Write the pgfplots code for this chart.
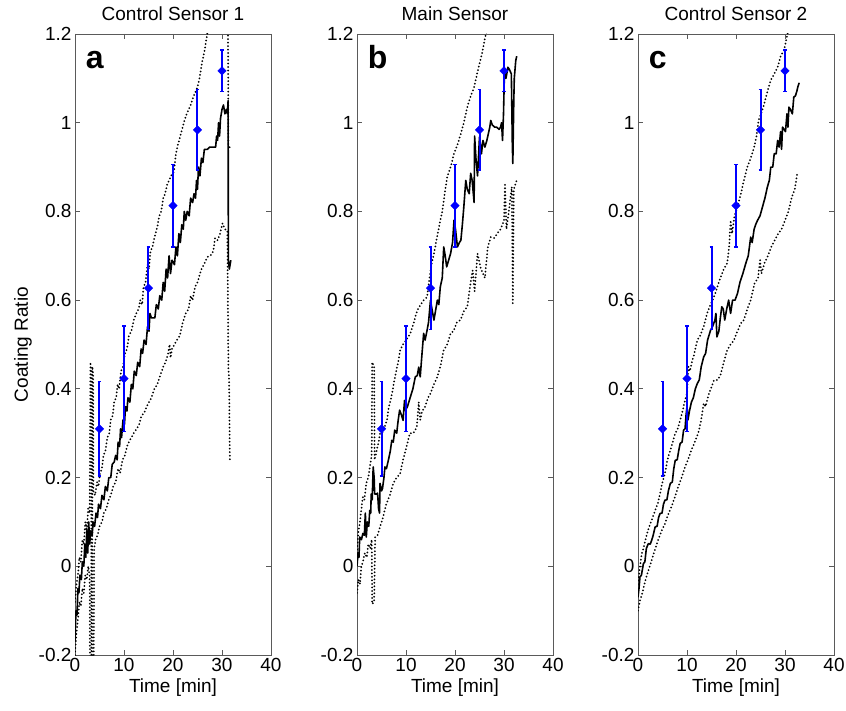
\documentclass[border=0pt]{standalone}
\usepackage{pgfplots}
\pgfplotsset{compat=1.18}
\usepackage{fontspec}
\setmainfont{Liberation Sans}
\definecolor{axgray}{RGB}{90,90,90}
\definecolor{ebblue}{RGB}{0,0,255}
\tikzset{letter/.style={anchor=base west, inner sep=0pt, font=\fontsize{32}{32}\selectfont\bfseries}}
\pgfplotsset{
 panel/.style={
  scale only axis, width=196pt, height=621pt, anchor=south west,
  xmin=0, xmax=40, ymin=-0.2, ymax=1.2,
  xtick={0,10,20,30,40}, xticklabels={0,10,20,30,40},
  ytick={-0.2,0,0.2,0.4,0.6,0.8,1,1.2}, yticklabels={-0.2,0,0.2,0.4,0.6,0.8,1,1.2},
  tick align=inside, major tick length=5pt,
  axis line style={axgray, line width=0.8pt},
  every tick/.style={axgray, line width=0.8pt},
  tick label style={font=\fontsize{19}{19}\selectfont, black},
  label style={font=\fontsize{19}{19}\selectfont},
  title style={font=\fontsize{19}{19}\selectfont, yshift=4pt},
  xlabel={Time [min]},
  clip=true, unbounded coords=jump,
 },
 mean/.style={black, line width=1.6pt, line join=round, no markers},
 bound/.style={black, line width=2pt, line cap=round, dash pattern=on 0pt off 3.5pt, no markers},
 ebar/.style={ebblue, line width=2pt, no markers, solid},
 ecap/.style={ebblue, line width=1.5pt, no markers, solid},
 emark/.style={ebblue, only marks, mark=square*, mark size=3pt,
   mark options={fill=ebblue, draw=ebblue, solid, rotate=45}},
}
\begin{document}
\begin{tikzpicture}
\path[use as bounding box] (0,0) rectangle (846pt,710pt);
% ---------------- panel a
\begin{axis}[panel, at={(75pt,55pt)}, title={Control Sensor 1}, ylabel={Coating Ratio}]
\addplot[bound] coordinates {(0,-0.08) (0.3,-0.04) (0.6,-0.02) (0.9,0.02) (1.2,0.01) (1.5,0.06) (1.8,0.05) (2.1,0.1) (2.4,0.08) (2.7,0.13) (3.0,0.12) (3.15,0.46) (3.3,0.44) (3.35,-0.25) (3.5,-0.25) (3.55,0.45) (3.7,0.43) (3.75,0.17) (4.1,0.16) (4.5,0.19) (4.8,0.18) (5.1,0.21) (5.5,0.22) (5.8,0.25) (6.2,0.26) (6.6,0.29) (7.0,0.3) (7.3,0.33) (7.7,0.34) (8.0,0.37) (8.4,0.38) (8.7,0.41) (9.0,0.4) (9.4,0.44) (9.8,0.45) (10.2,0.48) (10.6,0.49) (11.0,0.52) (11.5,0.53) (12.0,0.555) (12.5,0.57) (13.0,0.58) (13.3,0.6) (13.7,0.59) (14.0,0.63) (14.4,0.64) (14.8,0.68) (15.1,0.67) (15.4,0.71) (15.8,0.72) (16.2,0.74) (16.8,0.765) (17.2,0.79) (17.6,0.8) (18.0,0.83) (18.4,0.84) (18.8,0.86) (19.2,0.87) (19.6,0.88) (20.2,0.89) (20.6,0.93) (21.0,0.95) (21.5,0.97) (22.2,1.0) (22.8,1.02) (23.6,1.04) (24.2,1.06) (25.0,1.08) (25.4,1.1) (25.7,1.12) (26.0,1.14) (26.4,1.16) (27.0,1.2) (27.5,1.23) (28.5,1.26) (30,1.3) (31.2,1.32) (31.3,0.95) (31.8,0.94)};
\addplot[bound] coordinates {(0,-0.2) (0.3,-0.15) (0.6,-0.12) (0.9,-0.08) (1.2,-0.09) (1.5,-0.05) (1.8,-0.06) (2.1,-0.02) (2.4,-0.03) (2.7,0.0) (3.0,-0.02) (3.1,-0.3) (3.8,-0.3) (3.9,0.04) (4.2,0.06) (4.6,0.07) (5.0,0.09) (5.5,0.1) (5.9,0.12) (6.4,0.13) (6.9,0.15) (7.3,0.16) (7.8,0.18) (8.3,0.19) (8.8,0.22) (9.2,0.21) (9.7,0.24) (10.2,0.25) (10.6,0.27) (11.0,0.28) (11.5,0.29) (12.0,0.3) (12.6,0.31) (13.1,0.32) (13.6,0.34) (14.1,0.345) (14.6,0.36) (15.1,0.37) (15.6,0.38) (16.2,0.4) (16.8,0.41) (17.4,0.43) (18.0,0.45) (18.5,0.46) (19.0,0.48) (19.3,0.5) (19.5,0.47) (19.8,0.49) (20.3,0.5) (20.8,0.51) (21.4,0.52) (22.0,0.55) (22.6,0.57) (23.2,0.58) (23.6,0.61) (24.0,0.6) (24.5,0.63) (25.0,0.64) (25.7,0.667) (26.3,0.68) (27.0,0.697) (27.6,0.7) (28.2,0.71) (28.6,0.74) (29.1,0.735) (29.6,0.75) (30.1,0.773) (30.6,0.76) (31.1,0.757) (31.3,0.45) (31.45,0.42) (31.6,0.24)};
\addplot[mean] coordinates {(0,-0.17) (0.2,-0.1) (0.4,-0.11) (0.6,-0.05) (0.8,-0.06) (1.0,-0.02) (1.3,-0.03) (1.5,0.01) (1.8,0.0) (2.0,0.05) (2.2,0.02) (2.4,0.08) (2.6,0.03) (2.8,0.1) (3.0,0.05) (3.2,0.08) (3.5,0.07) (3.7,0.1) (4.0,0.09) (4.3,0.12) (4.6,0.11) (4.8,0.14) (5.2,0.13) (5.5,0.16) (5.9,0.15) (6.2,0.18) (6.6,0.17) (6.9,0.2) (7.3,0.2) (7.6,0.23) (8.0,0.235) (8.3,0.25) (8.6,0.24) (8.8,0.28) (9.1,0.27) (9.3,0.31) (9.5,0.29) (9.8,0.33) (10.1,0.32) (10.3,0.36) (10.6,0.35) (10.8,0.38) (11.2,0.37) (11.5,0.41) (11.8,0.4) (12.1,0.44) (12.5,0.43) (12.8,0.46) (13.2,0.45) (13.5,0.49) (13.8,0.48) (14.1,0.51) (14.5,0.5) (14.8,0.54) (15.1,0.53) (15.3,0.57) (15.6,0.56) (16.3,0.56) (16.6,0.59) (17.0,0.58) (17.3,0.61) (17.7,0.6) (18.0,0.64) (18.3,0.62) (18.6,0.67) (18.9,0.65) (19.2,0.7) (19.5,0.66) (19.8,0.69) (20.3,0.68) (20.6,0.72) (20.9,0.7) (21.2,0.75) (21.5,0.73) (21.8,0.77) (22.1,0.76) (22.3,0.8) (22.6,0.78) (22.9,0.8) (23.3,0.79) (23.6,0.83) (24.0,0.82) (24.3,0.84) (24.6,0.83) (24.8,0.87) (25.0,0.85) (25.2,0.9) (25.5,0.88) (25.8,0.92) (26.1,0.91) (26.4,0.94) (27.0,0.94) (27.5,0.945) (28.7,0.945) (28.9,0.97) (29.1,0.96) (29.3,1.0) (29.5,0.97) (29.7,1.01) (30.0,1.03) (30.3,1.04) (30.6,1.02) (30.9,1.03) (31.1,1.02) (31.25,1.05) (31.3,0.69) (31.5,0.67) (31.8,0.69)};
\addplot[ebar] coordinates {(5,0.203) (5,0.417) (nan,nan) (10,0.304) (10,0.542) (nan,nan) (15,0.534) (15,0.72) (nan,nan) (20,0.72) (20,0.906) (nan,nan) (25,0.893) (25,1.075) (nan,nan) (30,1.07) (30,1.164)};
\addplot[ecap] coordinates {(4.6,0.203) (5.4,0.203) (nan,nan) (4.6,0.417) (5.4,0.417) (nan,nan) (9.6,0.304) (10.4,0.304) (nan,nan) (9.6,0.542) (10.4,0.542) (nan,nan) (14.6,0.534) (15.4,0.534) (nan,nan) (14.6,0.72) (15.4,0.72) (nan,nan) (19.6,0.72) (20.4,0.72) (nan,nan) (19.6,0.906) (20.4,0.906) (nan,nan) (24.6,0.893) (25.4,0.893) (nan,nan) (24.6,1.075) (25.4,1.075) (nan,nan) (29.6,1.07) (30.4,1.07) (nan,nan) (29.6,1.164) (30.4,1.164)};
\addplot[emark] coordinates {(5,0.31) (10,0.423) (15,0.627) (20,0.813) (25,0.984) (30,1.117)};
\node[letter] at (rel axis cs:0.055,0.945) {a};
\end{axis}
% ---------------- panel b
\begin{axis}[panel, at={(357pt,55pt)}, title={Main Sensor}]
\addplot[bound] coordinates {(0,0.03) (0.3,0.08) (0.6,0.1) (0.9,0.13) (1.2,0.156) (1.5,0.15) (1.9,0.187) (2.3,0.2) (2.7,0.23) (3.0,0.25) (3.1,0.46) (3.5,0.45) (3.6,0.24) (4.0,0.26) (4.4,0.28) (4.7,0.3) (5.1,0.3) (5.5,0.31) (6.1,0.329) (6.5,0.36) (7.0,0.38) (7.5,0.412) (8.0,0.44) (8.4,0.46) (8.8,0.487) (9.4,0.5) (10.0,0.51) (10.9,0.525) (11.6,0.55) (12.3,0.577) (13.0,0.59) (13.6,0.6) (14.3,0.607) (14.8,0.65) (15.2,0.68) (15.7,0.705) (16.3,0.74) (17.0,0.78) (17.4,0.8) (17.9,0.84) (18.4,0.877) (19.1,0.9) (19.8,0.93) (20.5,0.95) (21.2,0.975) (21.8,1.0) (22.5,1.035) (23.2,1.06) (23.9,1.08) (24.5,1.11) (25.0,1.133) (25.6,1.16) (26.1,1.19) (26.8,1.22) (28,1.26) (30,1.3) (32.6,1.35)};
\addplot[bound] coordinates {(0,-0.06) (0.3,-0.03) (0.6,-0.04) (0.9,0.0) (1.2,0.01) (1.6,0.03) (2.0,0.02) (2.3,0.05) (2.7,0.04) (3.0,0.06) (3.1,-0.085) (3.5,-0.08) (3.7,0.066) (4.2,0.07) (4.7,0.089) (5.3,0.11) (6.0,0.141) (6.7,0.16) (7.4,0.187) (8.1,0.2) (8.8,0.209) (9.4,0.24) (10.1,0.27) (10.8,0.3) (11.5,0.3) (12.2,0.314) (12.6,0.37) (12.9,0.33) (13.3,0.35) (13.9,0.36) (14.5,0.38) (15.0,0.39) (15.7,0.41) (16.4,0.427) (17.0,0.45) (17.7,0.487) (18.4,0.5) (19.1,0.525) (19.7,0.53) (20.4,0.55) (21.1,0.555) (21.8,0.575) (22.5,0.585) (23.2,0.64) (23.6,0.667) (24.0,0.62) (24.6,0.705) (25.3,0.67) (26.1,0.65) (26.7,0.72) (27.3,0.742) (28.0,0.74) (28.6,0.75) (29.3,0.76) (30.0,0.78) (30.2,0.86) (30.5,0.76) (31.0,0.8) (31.4,0.84) (31.6,0.855) (31.8,0.593) (32.0,0.85) (32.3,0.86) (32.6,0.87)};
\addplot[mean] coordinates {(0,0.0) (0.2,0.03) (0.4,0.02) (0.55,0.066) (0.9,0.06) (1.2,0.074) (1.5,0.07) (1.7,0.12) (1.9,0.066) (2.1,0.1) (2.4,0.09) (2.6,0.126) (2.8,0.12) (2.9,0.163) (3.1,0.15) (3.3,0.224) (3.5,0.2) (3.6,0.163) (4.0,0.163) (4.2,0.165) (4.4,0.13) (4.6,0.12) (4.7,0.187) (5.0,0.17) (5.2,0.175) (5.5,0.2) (5.7,0.224) (6.0,0.22) (6.4,0.239) (6.8,0.26) (7.1,0.284) (7.4,0.28) (7.7,0.307) (8.1,0.3) (8.4,0.329) (8.7,0.352) (9.1,0.34) (9.4,0.329) (9.7,0.374) (9.9,0.352) (10.3,0.36) (10.9,0.382) (11.4,0.4) (11.9,0.427) (12.3,0.43) (12.6,0.449) (12.9,0.427) (13.2,0.47) (13.6,0.525) (13.9,0.51) (14.3,0.532) (14.6,0.55) (15.0,0.6) (15.3,0.58) (15.7,0.555) (16.4,0.6) (16.7,0.59) (17.0,0.63) (17.4,0.65) (17.7,0.72) (18.0,0.7) (18.3,0.675) (18.7,0.69) (19.1,0.705) (19.5,0.73) (19.8,0.78) (20.1,0.76) (20.5,0.72) (20.9,0.73) (21.2,0.735) (21.5,0.77) (21.8,0.81) (22.2,0.87) (22.5,0.85) (22.9,0.84) (23.2,0.886) (23.5,0.87) (23.9,0.82) (24.0,0.97) (24.3,0.915) (24.6,0.88) (25.0,0.968) (25.2,0.95) (25.4,0.93) (25.7,0.96) (26.1,0.945) (26.5,0.96) (26.8,0.975) (27.1,0.99) (27.3,1.005) (27.6,0.995) (28.1,0.99) (28.5,0.99) (29.0,0.985) (29.3,0.99) (29.5,1.0) (29.7,0.96) (29.9,1.02) (30.1,1.118) (30.4,1.1) (30.8,1.125) (31.1,1.12) (31.5,1.11) (31.7,0.95) (31.8,0.908) (32.0,1.05) (32.1,1.1) (32.4,1.14) (32.6,1.15)};
\addplot[ebar] coordinates {(5,0.203) (5,0.417) (nan,nan) (10,0.304) (10,0.542) (nan,nan) (15,0.534) (15,0.72) (nan,nan) (20,0.72) (20,0.906) (nan,nan) (25,0.893) (25,1.075) (nan,nan) (30,1.07) (30,1.164)};
\addplot[ecap] coordinates {(4.6,0.203) (5.4,0.203) (nan,nan) (4.6,0.417) (5.4,0.417) (nan,nan) (9.6,0.304) (10.4,0.304) (nan,nan) (9.6,0.542) (10.4,0.542) (nan,nan) (14.6,0.534) (15.4,0.534) (nan,nan) (14.6,0.72) (15.4,0.72) (nan,nan) (19.6,0.72) (20.4,0.72) (nan,nan) (19.6,0.906) (20.4,0.906) (nan,nan) (24.6,0.893) (25.4,0.893) (nan,nan) (24.6,1.075) (25.4,1.075) (nan,nan) (29.6,1.07) (30.4,1.07) (nan,nan) (29.6,1.164) (30.4,1.164)};
\addplot[emark] coordinates {(5,0.31) (10,0.423) (15,0.627) (20,0.813) (25,0.984) (30,1.117)};
\node[letter] at (rel axis cs:0.055,0.945) {b};
\end{axis}
% ---------------- panel c
\begin{axis}[panel, at={(638pt,55pt)}, title={Control Sensor 2}]
\addplot[bound] coordinates {(0,-0.04) (0.4,0.0) (0.8,0.03) (1.1,0.04) (1.5,0.059) (2.0,0.08) (2.5,0.096) (3.0,0.11) (3.5,0.126) (4.0,0.14) (4.5,0.164) (5.0,0.19) (5.5,0.209) (6.0,0.24) (6.6,0.262) (7.1,0.28) (7.6,0.3) (8.1,0.31) (8.6,0.329) (9.1,0.35) (9.6,0.374) (10.0,0.39) (10.3,0.45) (10.6,0.44) (11.0,0.46) (11.5,0.48) (12.1,0.51) (12.7,0.52) (13.4,0.54) (14.1,0.57) (14.8,0.59) (15.5,0.607) (16.2,0.63) (16.8,0.65) (17.5,0.67) (18.2,0.683) (18.6,0.72) (18.9,0.78) (19.2,0.75) (19.7,0.79) (20.3,0.81) (21.0,0.84) (21.6,0.87) (22.3,0.9) (23.0,0.92) (23.7,0.945) (24.2,0.97) (24.6,1.005) (25.1,1.02) (25.7,1.04) (26.4,1.07) (27.1,1.096) (27.8,1.11) (28.5,1.125) (29.1,1.15) (29.8,1.163) (30.5,1.2) (31.0,1.22) (32,1.25) (32.9,1.28)};
\addplot[bound] coordinates {(0,-0.1) (0.4,-0.077) (0.9,-0.06) (1.5,-0.032) (2.1,-0.01) (2.8,0.014) (3.4,0.035) (4.1,0.059) (4.8,0.08) (5.5,0.096) (6.1,0.115) (6.8,0.134) (7.5,0.155) (8.2,0.179) (8.9,0.2) (9.6,0.224) (10.2,0.24) (10.9,0.262) (11.6,0.28) (12.3,0.3) (12.9,0.33) (13.4,0.367) (13.8,0.36) (14.5,0.39) (15.5,0.419) (16.2,0.42) (16.8,0.43) (17.5,0.46) (18.2,0.487) (18.9,0.5) (19.6,0.51) (20.3,0.53) (21.0,0.548) (21.6,0.555) (22.3,0.58) (23.0,0.6) (23.8,0.638) (24.5,0.65) (24.9,0.69) (25.2,0.66) (25.8,0.683) (26.5,0.7) (27.2,0.72) (27.9,0.735) (28.6,0.75) (29.3,0.76) (30.0,0.78) (30.7,0.8) (31.4,0.833) (32.0,0.85) (32.5,0.886)};
\addplot[mean] coordinates {(0,-0.07) (0.2,-0.05) (0.4,-0.024) (0.7,-0.02) (1.1,0.006) (1.4,0.01) (1.7,0.04) (2.1,0.051) (2.5,0.05) (2.8,0.059) (3.1,0.07) (3.5,0.089) (3.9,0.09) (4.2,0.11) (4.5,0.119) (4.9,0.12) (5.2,0.14) (5.5,0.149) (5.9,0.15) (6.2,0.17) (6.6,0.187) (7.0,0.19) (7.3,0.22) (7.6,0.239) (8.0,0.24) (8.3,0.26) (8.6,0.277) (9.0,0.28) (9.3,0.307) (9.6,0.31) (9.8,0.34) (10.0,0.36) (10.2,0.33) (10.5,0.35) (10.9,0.37) (11.3,0.38) (11.7,0.4) (12.1,0.412) (12.5,0.42) (12.9,0.45) (13.4,0.472) (13.8,0.48) (14.2,0.51) (14.8,0.532) (15.2,0.54) (15.7,0.555) (15.9,0.57) (16.1,0.517) (16.5,0.53) (16.8,0.56) (17.1,0.585) (17.4,0.58) (17.7,0.555) (18.1,0.58) (18.5,0.6) (18.9,0.57) (19.3,0.6) (19.8,0.6) (20.3,0.615) (20.8,0.64) (21.4,0.66) (22.0,0.683) (22.5,0.7) (23.0,0.742) (23.3,0.73) (23.7,0.76) (24.0,0.77) (24.4,0.78) (24.9,0.79) (25.4,0.81) (25.9,0.83) (26.4,0.855) (26.8,0.87) (27.1,0.9) (27.5,0.9) (27.8,0.93) (28.2,0.93) (28.5,0.96) (28.8,0.945) (29.1,0.98) (29.3,0.94) (29.5,0.99) (29.8,0.985) (30.1,0.98) (30.4,1.02) (30.6,0.99) (30.8,1.035) (31.1,1.03) (31.5,1.02) (31.8,1.058) (32.1,1.06) (32.4,1.07) (32.6,1.08) (32.9,1.09)};
\addplot[ebar] coordinates {(5,0.203) (5,0.417) (nan,nan) (10,0.304) (10,0.542) (nan,nan) (15,0.534) (15,0.72) (nan,nan) (20,0.72) (20,0.906) (nan,nan) (25,0.893) (25,1.075) (nan,nan) (30,1.07) (30,1.164)};
\addplot[ecap] coordinates {(4.6,0.203) (5.4,0.203) (nan,nan) (4.6,0.417) (5.4,0.417) (nan,nan) (9.6,0.304) (10.4,0.304) (nan,nan) (9.6,0.542) (10.4,0.542) (nan,nan) (14.6,0.534) (15.4,0.534) (nan,nan) (14.6,0.72) (15.4,0.72) (nan,nan) (19.6,0.72) (20.4,0.72) (nan,nan) (19.6,0.906) (20.4,0.906) (nan,nan) (24.6,0.893) (25.4,0.893) (nan,nan) (24.6,1.075) (25.4,1.075) (nan,nan) (29.6,1.07) (30.4,1.07) (nan,nan) (29.6,1.164) (30.4,1.164)};
\addplot[emark] coordinates {(5,0.31) (10,0.423) (15,0.627) (20,0.813) (25,0.984) (30,1.117)};
\node[letter] at (rel axis cs:0.055,0.945) {c};
\end{axis}
\end{tikzpicture}
\end{document}
